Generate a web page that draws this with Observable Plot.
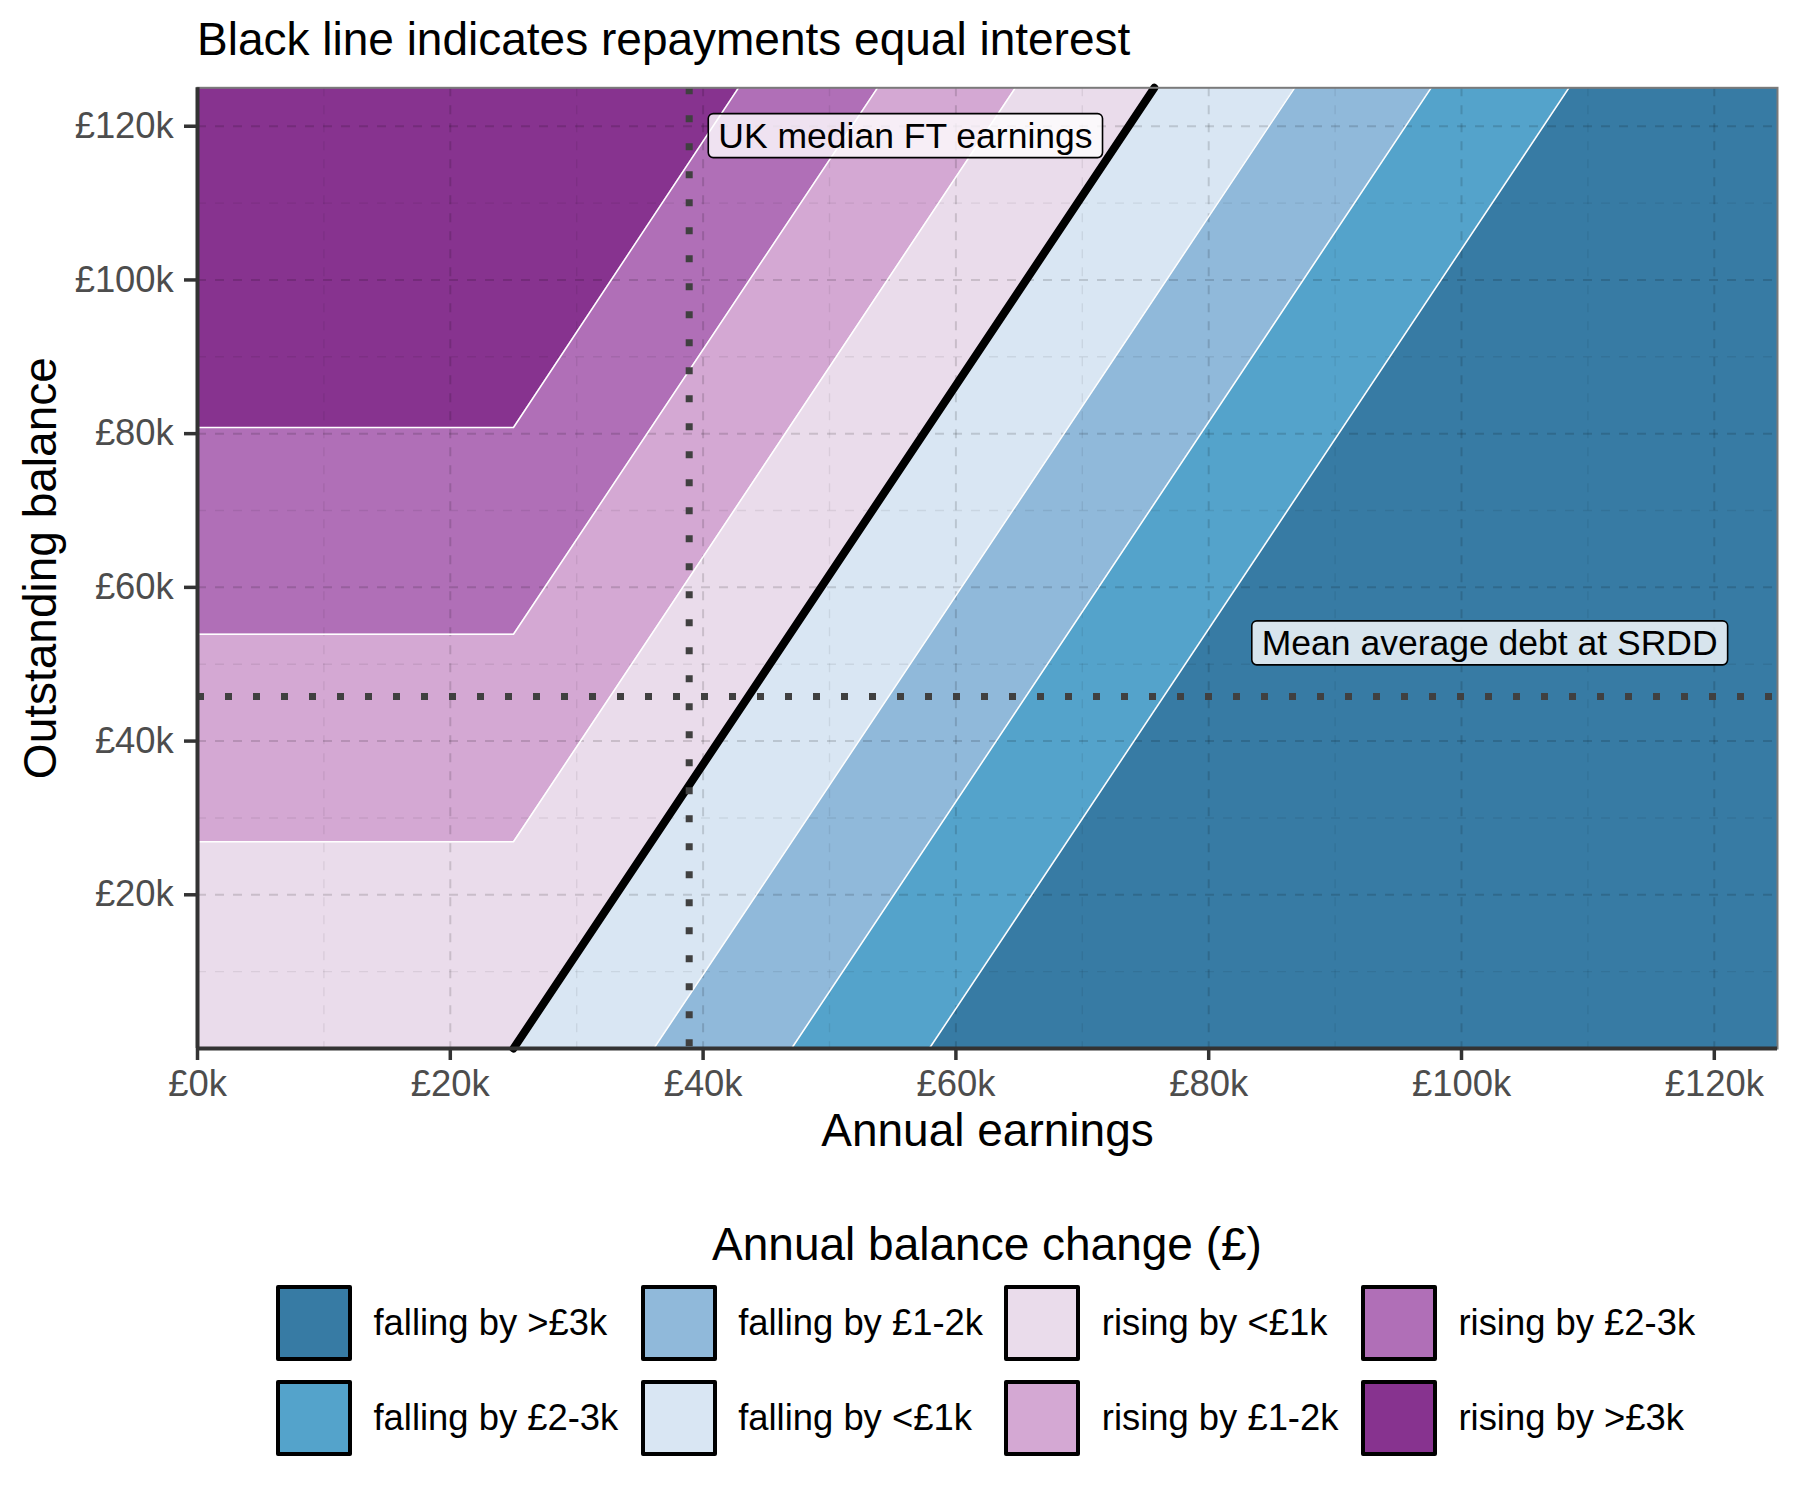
<!DOCTYPE html>
<html>
<head>
<meta charset="utf-8">
<script src="https://cdn.jsdelivr.net/npm/d3@7"></script>
<script src="https://cdn.jsdelivr.net/npm/@observablehq/plot@0.6"></script>
<style>
  html, body { margin: 0; padding: 0; background: #fff; }
  #wrap { position: relative; width: 1800px; height: 1500px; font-family: "Liberation Sans", Arial, sans-serif; color: #000; }
  #title { position: absolute; left: 197px; top: 16px; font-size: 46px; line-height: 1; white-space: nowrap; }
  #chart { position: absolute; left: 0; top: 76px; }
  #legend-title { position: absolute; left: 987px; top: 1221px; transform: translateX(-50%); font-size: 46px; line-height: 1; white-space: nowrap; }
  #legend { position: absolute; left: 276px; top: 1285px; display: grid; grid-auto-flow: column;
            grid-template-rows: 76px 76px; row-gap: 19px; grid-template-columns: 364.7px 363.6px 356.7px auto; }
  .item { display: flex; align-items: center; height: 76px; }
  .sw { width: 76px; height: 76px; box-sizing: border-box; border: 4.5px solid #000; border-radius: 2px; }
  .lab { margin-left: 21.5px; font-size: 36.4px; line-height: 1; white-space: nowrap; }
</style>
</head>
<body>
<div id="wrap">
  <div id="title">Black line indicates repayments equal interest</div>
  <div id="chart"></div>
  <div id="legend-title">Annual balance change (£)</div>
  <div id="legend"></div>
</div>
<script>
// ---- data (values in £) ----
const bandLabels = ["falling by >£3k", "falling by £2-3k", "falling by £1-2k", "falling by <£1k",
                    "rising by <£1k", "rising by £1-2k", "rising by £2-3k", "rising by >£3k"];
const bandColors = ["#377ba4", "#54a3cb", "#90b9da", "#d9e6f3",
                    "#eadceb", "#d4a8d3", "#b06fb7", "#87338f"];
const axisMax = 125000;
const thresholdEarnings = 25000;                      // contour lines kink here
const risingLevels = [26900, 53900, 80800];           // balance of rising boundaries (<1k|1-2k, 1-2k|2-3k, 2-3k|>3k) below threshold
const risingTopEarnings = [64700, 53800, 42800];      // earnings where those boundaries meet the top edge
const fallingBottomEarnings = [25000, 36100, 47000, 57900]; // black line, <1k|1-2k, 1-2k|2-3k, 2-3k|>3k at zero balance
const fallingTopEarnings = [75700, 86800, 97600, 108500];   // same boundaries at the top edge
const medianEarnings = 38900;   // UK median FT earnings
const meanDebt = 45800;         // mean average debt at SRDD
const xTicks = [0, 20000, 40000, 60000, 80000, 100000, 120000];
const yTicks = [20000, 40000, 60000, 80000, 100000, 120000];
const minorTicks = [10000, 30000, 50000, 70000, 90000, 110000];
const annTexts = ["UK median FT earnings", "Mean average debt at SRDD"];
const annEarnings = [41200, 84200];
const annBalance = [118700, 52700];

// ---- build boundary polylines and band polygons from the values above ----
const risingLines = risingLevels.map((b, i) => [[0, b], [thresholdEarnings, b], [risingTopEarnings[i], axisMax]]);
const fallingLines = fallingBottomEarnings.map((e, i) => [[e, 0], [fallingTopEarnings[i], axisMax]]);
const topEdge = [[0, axisMax], [risingTopEarnings[2], axisMax], [risingTopEarnings[2], axisMax]];
const rightEdge = [[axisMax, 0], [axisMax, axisMax]];
const bottomRising = [[0, 0], [thresholdEarnings, 0], [fallingTopEarnings[0], axisMax]];

// each band: [a-polyline, b-polyline] (area fills between them)
const bandPairs = {
  "falling by >£3k": [rightEdge, fallingLines[3]],
  "falling by £2-3k": [fallingLines[3], fallingLines[2]],
  "falling by £1-2k": [fallingLines[2], fallingLines[1]],
  "falling by <£1k": [fallingLines[1], fallingLines[0]],
  "rising by <£1k": [bottomRising, risingLines[0]],
  "rising by £1-2k": [risingLines[0], risingLines[1]],
  "rising by £2-3k": [risingLines[1], risingLines[2]],
  "rising by >£3k": [risingLines[2], topEdge]
};
const bandRows = [];
for (const band of bandLabels) {
  const [a, b] = bandPairs[band];
  a.forEach((p, i) => bandRows.push({band, xa: p[0], ya: p[1], xb: b[i][0], yb: b[i][1]}));
}
const whiteRows = [];
risingLines.forEach((l, i) => l.forEach(p => whiteRows.push({id: "r" + i, x: p[0], y: p[1]})));
fallingLines.slice(1).forEach((l, i) => l.forEach(p => whiteRows.push({id: "f" + i, x: p[0], y: p[1]})));
const blackRows = fallingLines[0].map(p => ({x: p[0], y: p[1]}));
const annRows = annTexts.map((t, i) => ({text: t, x: annEarnings[i], y: annBalance[i]}));

const fmt = d => "£" + d / 1000 + "k";
const dash = "9,9";

const chart = Plot.plot({
  width: 1800, height: 1090,
  marginLeft: 197, marginRight: 23, marginTop: 11.3, marginBottom: 118,
  style: {fontFamily: "'Liberation Sans', Arial, sans-serif", background: "transparent", overflow: "visible"},
  x: {domain: [0, axisMax]},
  y: {domain: [0, axisMax]},
  color: {domain: bandLabels, range: bandColors},
  marks: [
    Plot.area(bandRows, {x1: "xa", y1: "ya", x2: "xb", y2: "yb", z: "band", fill: "band"}),
    Plot.gridX(minorTicks, {stroke: "#000", strokeOpacity: 0.07, strokeWidth: 1.4, strokeDasharray: dash}),
    Plot.gridY(minorTicks, {stroke: "#000", strokeOpacity: 0.07, strokeWidth: 1.4, strokeDasharray: dash}),
    Plot.gridX(xTicks.slice(1), {stroke: "#000", strokeOpacity: 0.14, strokeWidth: 2, strokeDasharray: dash}),
    Plot.gridY(yTicks, {stroke: "#000", strokeOpacity: 0.14, strokeWidth: 2, strokeDasharray: dash}),
    Plot.line(whiteRows, {x: "x", y: "y", z: "id", stroke: "#fff", strokeWidth: 1.5}),
    Plot.line(blackRows, {x: "x", y: "y", stroke: "#000", strokeWidth: 8}),
    Plot.ruleX([medianEarnings], {stroke: "#404040", strokeWidth: 7, strokeDasharray: "7,21"}),
    Plot.ruleY([meanDebt], {stroke: "#404040", strokeWidth: 7, strokeDasharray: "7,21"}),
    Plot.text(annRows, {x: "x", y: "y", text: "text", textAnchor: "start", lineAnchor: "middle",
                        fontSize: 35.5, fill: "#000", className: "ann"}),
    Plot.frame({stroke: "#7a7a7a", strokeWidth: 2}),
    Plot.ruleX([0], {stroke: "#333", strokeWidth: 4}),
    Plot.ruleY([0], {stroke: "#333", strokeWidth: 4}),
    Plot.axisX(xTicks, {tickFormat: fmt, tickSize: 12, tickPadding: 10, fontSize: 36.4,
                        stroke: "#333", strokeWidth: 3.5, fill: "#4d4d4d", label: null}),
    Plot.axisY(yTicks, {tickFormat: fmt, tickSize: 13, tickPadding: 10.7, fontSize: 36.4,
                        stroke: "#333", strokeWidth: 3.5, fill: "#4d4d4d", label: null}),
    Plot.text(["Annual earnings"], {text: d => d, frameAnchor: "bottom", dy: 97.7, lineAnchor: "bottom",
                                    textAnchor: "middle", fontSize: 46, fill: "#000"}),
    Plot.text(["Outstanding balance"], {text: d => d, frameAnchor: "left", dx: -156.5, rotate: -90,
                                        textAnchor: "middle", lineAnchor: "middle", fontSize: 46, fill: "#000"})
  ]
});
document.getElementById("chart").appendChild(chart);

// label boxes behind annotation texts (like geom_label)
chart.querySelectorAll(".ann text").forEach(t => {
  const bb = t.getBBox();
  const g = t.parentNode;
  const r = document.createElementNS("http://www.w3.org/2000/svg", "rect");
  const padX = 10, padY = 2;
  r.setAttribute("x", bb.x - padX);
  r.setAttribute("y", bb.y - padY);
  r.setAttribute("width", bb.width + 2 * padX);
  r.setAttribute("height", bb.height + 2 * padY);
  r.setAttribute("rx", 5);
  r.setAttribute("fill", "#fff");
  r.setAttribute("fill-opacity", 0.8);
  r.setAttribute("stroke", "#000");
  r.setAttribute("stroke-width", 1.6);
  const tr = t.getAttribute("transform");
  if (tr) r.setAttribute("transform", tr);
  g.insertBefore(r, t);
});

// legend
const legend = document.getElementById("legend");
bandLabels.forEach((lab, i) => {
  const item = document.createElement("div");
  item.className = "item";
  const sw = document.createElement("div");
  sw.className = "sw";
  sw.style.background = bandColors[i];
  const tx = document.createElement("div");
  tx.className = "lab";
  tx.textContent = lab;
  item.appendChild(sw);
  item.appendChild(tx);
  legend.appendChild(item);
});
</script>
</body>
</html>
